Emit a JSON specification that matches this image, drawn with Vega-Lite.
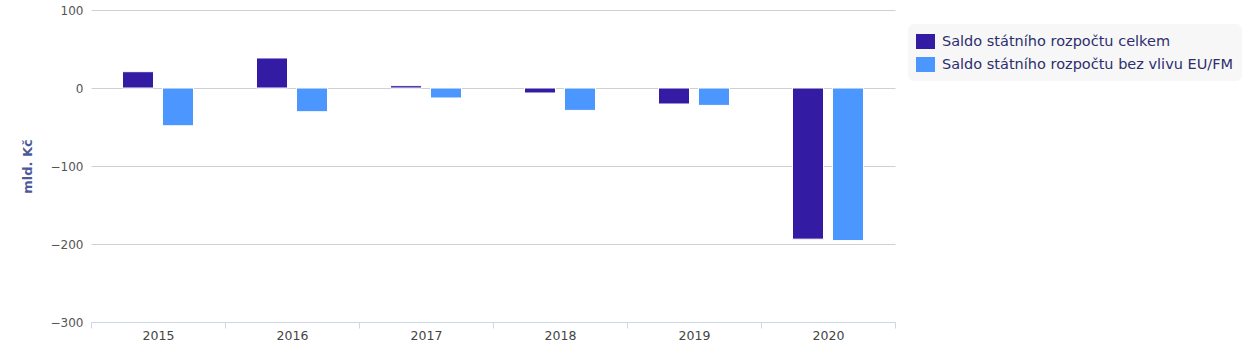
{
  "$schema": "https://vega.github.io/schema/vega-lite/v6.json",
  "autosize": {"type": "none"},
  "padding": {"left": 91, "top": 10, "right": 362, "bottom": 36},
  "width": 804,
  "height": 312,
  "background": "white",
  "config": {"view": {"stroke": null}, "font": "DejaVu Sans"},
  "data": {
    "values": [
      {"rok": "2015", "serie": "Saldo státního rozpočtu celkem", "hodnota": 20.9},
      {"rok": "2015", "serie": "Saldo státního rozpočtu bez vlivu EU/FM", "hodnota": -48.4},
      {"rok": "2016", "serie": "Saldo státního rozpočtu celkem", "hodnota": 38.5},
      {"rok": "2016", "serie": "Saldo státního rozpočtu bez vlivu EU/FM", "hodnota": -30.4},
      {"rok": "2017", "serie": "Saldo státního rozpočtu celkem", "hodnota": 3.0},
      {"rok": "2017", "serie": "Saldo státního rozpočtu bez vlivu EU/FM", "hodnota": -12.8},
      {"rok": "2018", "serie": "Saldo státního rozpočtu celkem", "hodnota": -6.4},
      {"rok": "2018", "serie": "Saldo státního rozpočtu bez vlivu EU/FM", "hodnota": -28.7},
      {"rok": "2019", "serie": "Saldo státního rozpočtu celkem", "hodnota": -20.5},
      {"rok": "2019", "serie": "Saldo státního rozpočtu bez vlivu EU/FM", "hodnota": -22.3},
      {"rok": "2020", "serie": "Saldo státního rozpočtu celkem", "hodnota": -193.8},
      {"rok": "2020", "serie": "Saldo státního rozpočtu bez vlivu EU/FM", "hodnota": -195.6}
    ]
  },
  "mark": {"type": "bar", "stroke": "white", "strokeWidth": 1},
  "encoding": {
    "x": {
      "field": "rok",
      "type": "nominal",
      "scale": {"paddingInner": 0, "paddingOuter": 0},
      "axis": {
        "title": null,
        "labelAngle": 0,
        "labelColor": "#444444",
        "labelFontSize": 12.5,
        "labelPadding": 1,
        "domainColor": "#ccd6eb",
        "tickColor": "#ccd6eb",
        "tickBand": "extent",
        "tickSize": 6,
        "grid": false
      }
    },
    "xOffset": {
      "field": "serie",
      "type": "nominal",
      "sort": ["Saldo státního rozpočtu celkem", "Saldo státního rozpočtu bez vlivu EU/FM"],
      "scale": {"paddingInner": 0.225, "paddingOuter": 0.7875}
    },
    "y": {
      "field": "hodnota",
      "type": "quantitative",
      "scale": {"domain": [-300, 100], "nice": false, "zero": false},
      "axis": {
        "title": "mld. Kč",
        "titleColor": "#4d5a99",
        "titleFontSize": 13,
        "titleFontWeight": "bold",
        "titlePadding": 16,
        "values": [-300, -200, -100, 0, 100],
        "labelColor": "#555555",
        "labelFontSize": 12,
        "labelPadding": 8,
        "domain": false,
        "ticks": false,
        "gridColor": "#d0d0d0",
        "gridWidth": 1
      }
    },
    "color": {
      "field": "serie",
      "type": "nominal",
      "sort": ["Saldo státního rozpočtu celkem", "Saldo státního rozpočtu bez vlivu EU/FM"],
      "scale": {
        "domain": ["Saldo státního rozpočtu celkem", "Saldo státního rozpočtu bez vlivu EU/FM"],
        "range": ["#331ba3", "#4c96ff"]
      },
      "legend": {
        "title": null,
        "orient": "none",
        "legendX": 817,
        "legendY": 14,
        "fillColor": "#f7f7f7",
        "cornerRadius": 6,
        "padding": 8,
        "symbolType": "M-1,-0.79H1V0.79H-1Z",
        "symbolSize": 361,
        "symbolStrokeWidth": 0,
        "labelFontSize": 14.5,
        "labelLimit": 0,
        "labelColor": "#2e2e6e",
        "labelOffset": 7,
        "rowPadding": 5
      }
    }
  }
}
